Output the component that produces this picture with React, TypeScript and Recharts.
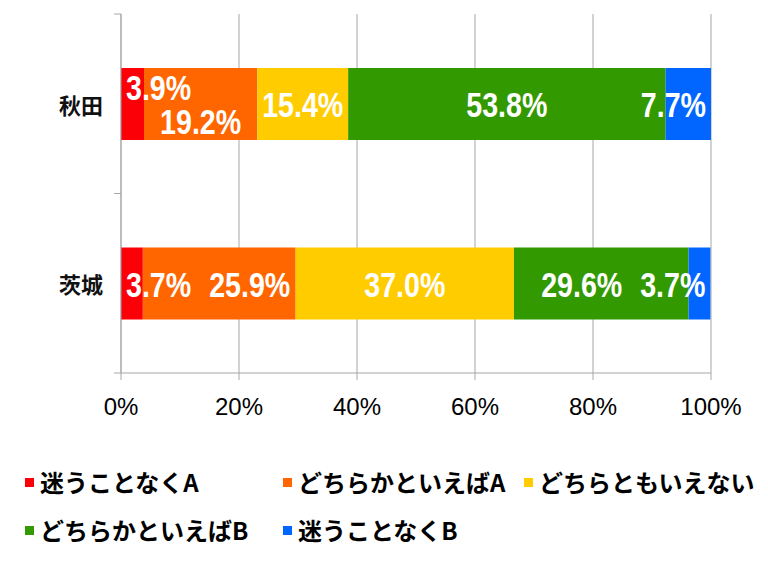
import { BarChart, Bar, XAxis, YAxis, CartesianGrid, LabelList } from "recharts";

// 回答データ（%）
const categories = ["秋田", "茨城"];
const seriesNames = [
  "迷うことなくA",
  "どちらかといえばA",
  "どちらともいえない",
  "どちらかといえばB",
  "迷うことなくB",
];
const surelyA = [3.9, 3.7];
const leanA = [19.2, 25.9];
const neutral = [15.4, 37.0];
const leanB = [53.8, 29.6];
const surelyB = [7.7, 3.7];
const xTicks = [0, 20, 40, 60, 80, 100];

const seriesValues = [surelyA, leanA, neutral, leanB, surelyB];
const seriesKeys = ["surelyA", "leanA", "neutral", "leanB", "surelyB"];
const COLORS = ["#fb0006", "#ff6600", "#ffcc00", "#339900", "#0066ff"];

const data = categories.map((name, i) => {
  const row: Record<string, string | number> = { name };
  seriesKeys.forEach((k, s) => {
    row[k] = seriesValues[s][i];
  });
  return row;
});

const W = 768;
const H = 569;
const X_HEIGHT = 30;
const MARGIN = { top: 14, right: 57, left: 0, bottom: 196 - X_HEIGHT };
const Y_WIDTH = 121;
const TICK_SIZE = 7;
const Y_TICK_MARGIN = 11;
const BAND = (H - MARGIN.top - MARGIN.bottom - X_HEIGHT) / categories.length;
const AXIS_COLOR = "#a6a6a6";

const LABEL_FONT = 35;
const PAD = 5;
const GAP = 18;
const STAGGER = 17;

const fmt = (v: number) => `${v.toFixed(1)}%`;

// Arial 系の字幅から、元図の縮んだ書体の幅を見積もる
const labelWidth = (text: string) => {
  let em = 0;
  for (const ch of text) {
    if (ch === ".") em += 0.278;
    else if (ch === "%") em += 0.889;
    else em += 0.556;
  }
  return em * 28.6;
};

interface Placed {
  cx: number;
  w: number;
  segW: number;
  dy: number;
}

// 1 行分のラベル位置：中央配置→バー内に収める→重なりは押し出し、無理なら上下にずらす
function layoutRow(row: number[], start: number, ppu: number): Placed[] {
  const total = row.reduce((a, b) => a + b, 0);
  const end = start + total * ppu;
  let cum = 0;
  const items: Placed[] = row.map((v) => {
    const segStart = start + cum * ppu;
    cum += v;
    const segW = v * ppu;
    return { cx: segStart + segW / 2, w: labelWidth(fmt(v)), segW, dy: 0 };
  });
  const left = (p: Placed) => p.cx - p.w / 2;
  const right = (p: Placed) => p.cx + p.w / 2;
  items.forEach((p) => {
    if (left(p) < start + PAD) p.cx = start + PAD + p.w / 2;
    if (right(p) > end - PAD) p.cx = end - PAD - p.w / 2;
  });
  for (let i = 0; i < items.length - 1; i++) {
    const a = items[i];
    const b = items[i + 1];
    if (right(a) + GAP <= left(b)) continue;
    if (b.segW >= a.segW) {
      const cx = right(a) + GAP + b.w / 2;
      const next = items[i + 2];
      const r = cx + b.w / 2;
      if (r <= end - PAD && (!next || r + GAP <= left(next))) {
        b.cx = cx;
        continue;
      }
    } else {
      const cx = left(b) - GAP - a.w / 2;
      const prev = items[i - 1];
      const l = cx - a.w / 2;
      if (l >= start + PAD && (!prev || right(prev) + GAP <= l)) {
        a.cx = cx;
        continue;
      }
    }
    a.dy = -STAGGER;
    b.dy = STAGGER;
  }
  return items;
}

const renderLabel = (s: number) => (props: any) => {
  const vb = props.viewBox ?? props;
  const x = Number(vb.x ?? props.x);
  const y = Number(vb.y ?? props.y);
  const width = Number(vb.width ?? props.width);
  const height = Number(vb.height ?? props.height);
  const index = Number(props.index);
  const row = seriesValues.map((vals) => vals[index]);
  const v = row[s];
  if (!v || !width) return null;
  const ppu = width / v;
  const before = row.slice(0, s).reduce((a, b) => a + b, 0);
  const start = x - before * ppu;
  const p = layoutRow(row, start, ppu)[s];
  const text = fmt(v);
  return (
    <text
      x={p.cx}
      y={y + height / 2 + p.dy + 13}
      textAnchor="middle"
      fill="#ffffff"
      fontSize={LABEL_FONT}
      fontWeight="bold"
      fontFamily="'Liberation Sans', Arial, sans-serif"
      textLength={p.w}
      lengthAdjust="spacingAndGlyphs"
    >
      {text}
    </text>
  );
};

const YTick = (props: any) => {
  const { x, y, payload, index } = props;
  const axisX = Number(x) + Y_TICK_MARGIN + TICK_SIZE;
  const half = BAND / 2;
  return (
    <g>
      <line x1={axisX - TICK_SIZE} x2={axisX} y1={y - half} y2={y - half} stroke={AXIS_COLOR} />
      {index === categories.length - 1 && (
        <line x1={axisX - TICK_SIZE} x2={axisX} y1={y + half} y2={y + half} stroke={AXIS_COLOR} />
      )}
      <text
        x={x}
        y={y}
        textAnchor="end"
        dominantBaseline="central"
        fontSize={22}
        fontWeight="bold"
        fill="#111"
        fontFamily="'Noto Sans CJK JP', sans-serif"
      >
        {payload.value}
      </text>
    </g>
  );
};

export default function App() {
  return (
    <div style={{ position: "absolute", left: 0, top: 0, width: W, height: H, background: "#fff" }}>
      <BarChart width={W} height={H} data={data} layout="vertical" margin={MARGIN}>
        <CartesianGrid horizontal={false} stroke={AXIS_COLOR} />
        <XAxis
          type="number"
          domain={[0, 100]}
          ticks={xTicks}
          tickFormatter={(v) => `${v}%`}
          height={X_HEIGHT}
          tickSize={TICK_SIZE}
          tickMargin={18}
          stroke={AXIS_COLOR}
          tick={{ fill: "#000", fontSize: 24, fontFamily: "'Liberation Sans', Arial, sans-serif" }}
          interval={0}
        />
        <YAxis
          type="category"
          dataKey="name"
          width={Y_WIDTH}
          tickLine={false}
          tickSize={TICK_SIZE}
          tickMargin={Y_TICK_MARGIN}
          stroke={AXIS_COLOR}
          tick={<YTick />}
        />
        {seriesKeys.map((k, s) => (
          <Bar
            key={k}
            dataKey={k}
            name={seriesNames[s]}
            stackId="a"
            fill={COLORS[s]}
            barSize={72}
            isAnimationActive={false}
          >
            <LabelList dataKey={k} content={renderLabel(s)} />
          </Bar>
        ))}
      </BarChart>
      <div
        style={{
          position: "absolute",
          left: 25,
          top: 458,
          display: "grid",
          gridTemplateColumns: "258px 241px auto",
          gridAutoRows: "48px",
          alignItems: "center",
          fontFamily: "'Noto Sans CJK JP', sans-serif",
          fontSize: 24,
          fontWeight: "bold",
          color: "#000",
        }}
      >
        {seriesNames.map((n, s) => (
          <div key={n} style={{ display: "flex", alignItems: "center", whiteSpace: "nowrap" }}>
            <span style={{ width: 9, height: 9, background: COLORS[s], marginRight: 6, display: "inline-block" }} />
            <span style={{ lineHeight: 1 }}>{n}</span>
          </div>
        ))}
      </div>
    </div>
  );
}
